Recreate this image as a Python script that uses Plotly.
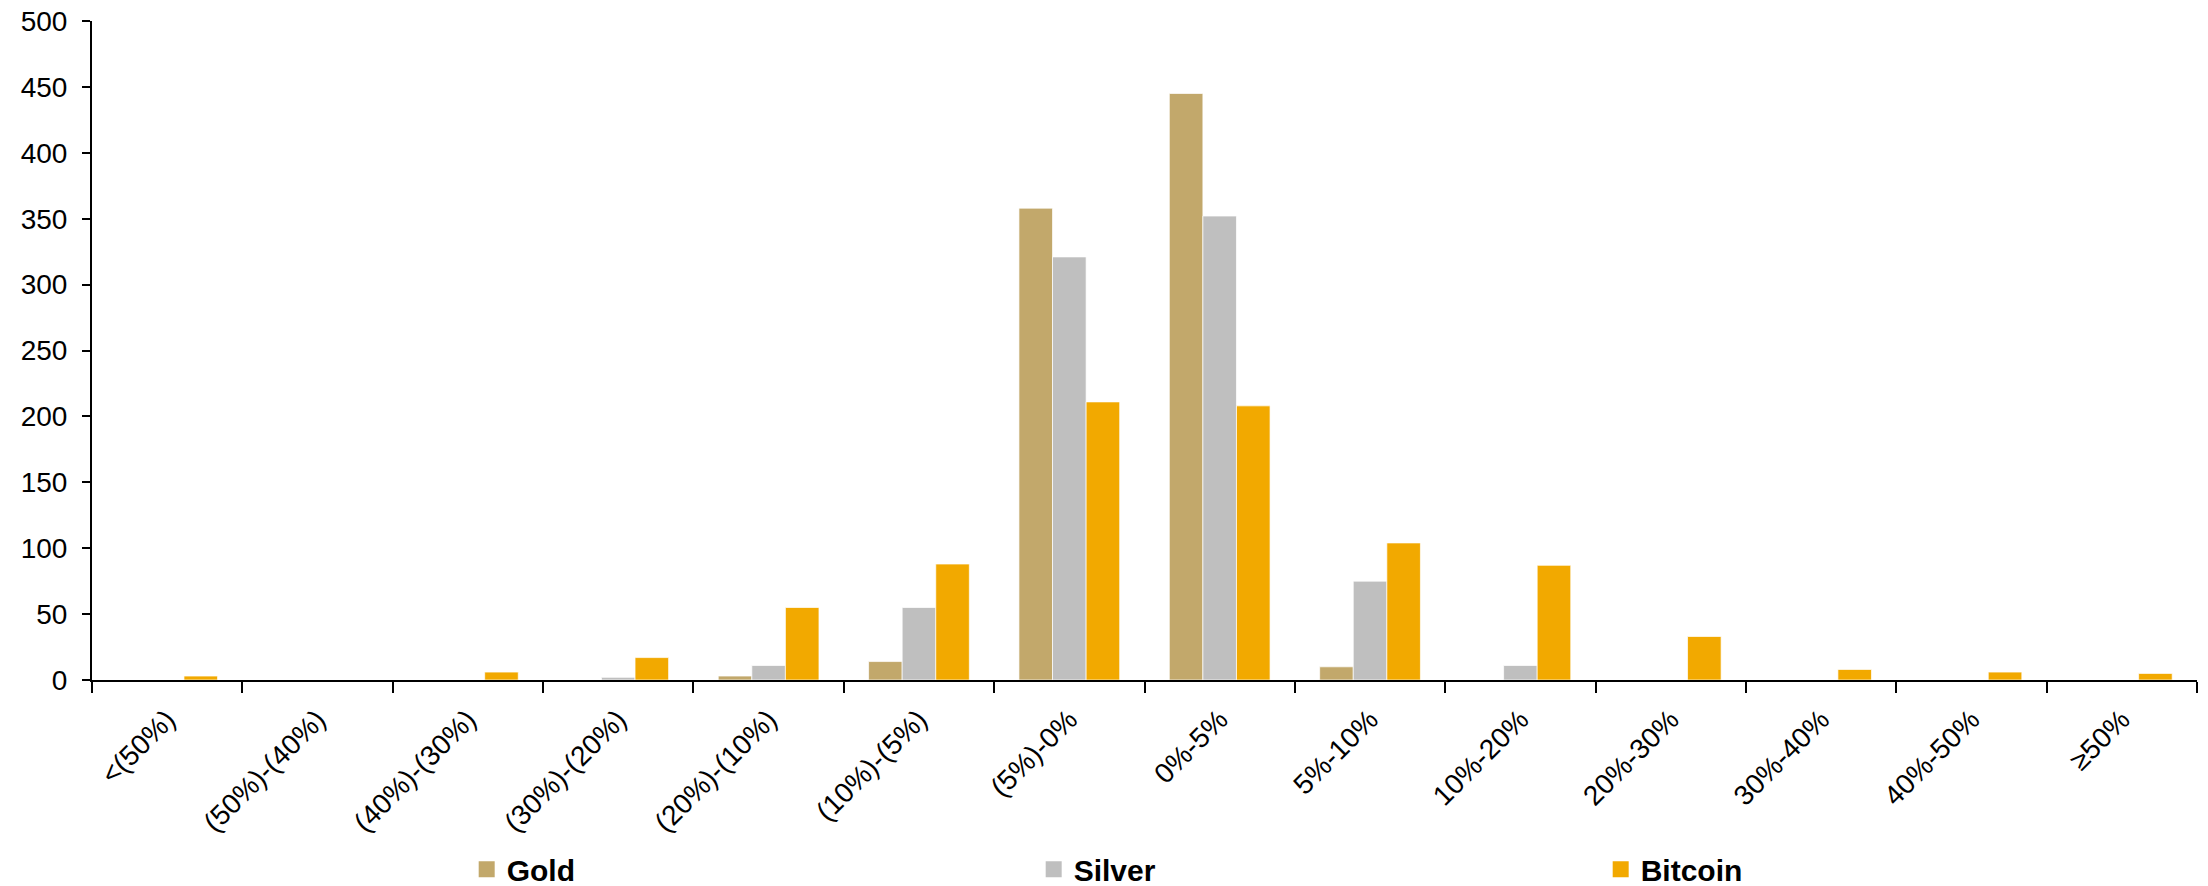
import plotly.graph_objects as go

categories = ['<(50%)', '(50%)-(40%)', '(40%)-(30%)', '(30%)-(20%)', '(20%)-(10%)',
              '(10%)-(5%)', '(5%)-0%', '0%-5%', '5%-10%', '10%-20%', '20%-30%',
              '30%-40%', '40%-50%', '≥50%']
gold = [0, 0, 0, 0, 3, 14, 358, 445, 10, 0, 0, 0, 0, 0]
silver = [0, 0, 0, 2, 11, 55, 321, 352, 75, 11, 0, 0, 0, 0]
bitcoin = [3, 0, 6, 17, 55, 88, 211, 208, 104, 87, 33, 8, 6, 5]

series = [('Gold', gold, '#C2A86B'), ('Silver', silver, '#BFBFBF'), ('Bitcoin', bitcoin, '#F2A900')]

fig = go.Figure()
for name, vals, col in series:
    fig.add_trace(go.Bar(
        name=name, x=categories, y=vals, marker_color=col,
        marker_line=dict(color='rgba(255,255,255,0.7)', width=1),
        showlegend=False,
    ))
# legend entries with bigger square swatches
for name, vals, col in series:
    fig.add_trace(go.Scatter(
        name='<b>' + name + '</b>', x=[None], y=[None], mode='markers',
        marker=dict(symbol='square', size=16, color=col),
    ))

fig.update_layout(
    width=2208, height=886,
    barmode='group', bargap=0.33, bargroupgap=0,
    plot_bgcolor='white', paper_bgcolor='white',
    margin=dict(l=92, r=11, t=21, b=206, autoexpand=False),
    font=dict(family='Liberation Sans, Arial', size=28, color='black'),
    legend=dict(
        orientation='h', x=0.178, xanchor='left', y=-0.287, yanchor='middle',
        entrywidth=522, font=dict(size=30, family='Liberation Sans, Arial'),
        itemsizing='trace',
    ),
)
fig.update_xaxes(
    showline=True, linecolor='black', linewidth=2,
    ticks='outside', tickson='boundaries', ticklen=11, tickwidth=2, tickcolor='black',
    tickangle=-45, tickfont=dict(size=28), ticklabelstandoff=10, showgrid=False,
)
fig.update_yaxes(
    range=[0, 500], dtick=50, showline=True, linecolor='black', linewidth=2,
    ticks='outside', ticklen=8, tickwidth=2, tickcolor='black',
    tickfont=dict(size=28), ticklabelstandoff=9, showgrid=False, zeroline=False,
)
fig.write_html('out.html', config={'displayModeBar': False},
               post_script="document.body.style.margin='0';")
